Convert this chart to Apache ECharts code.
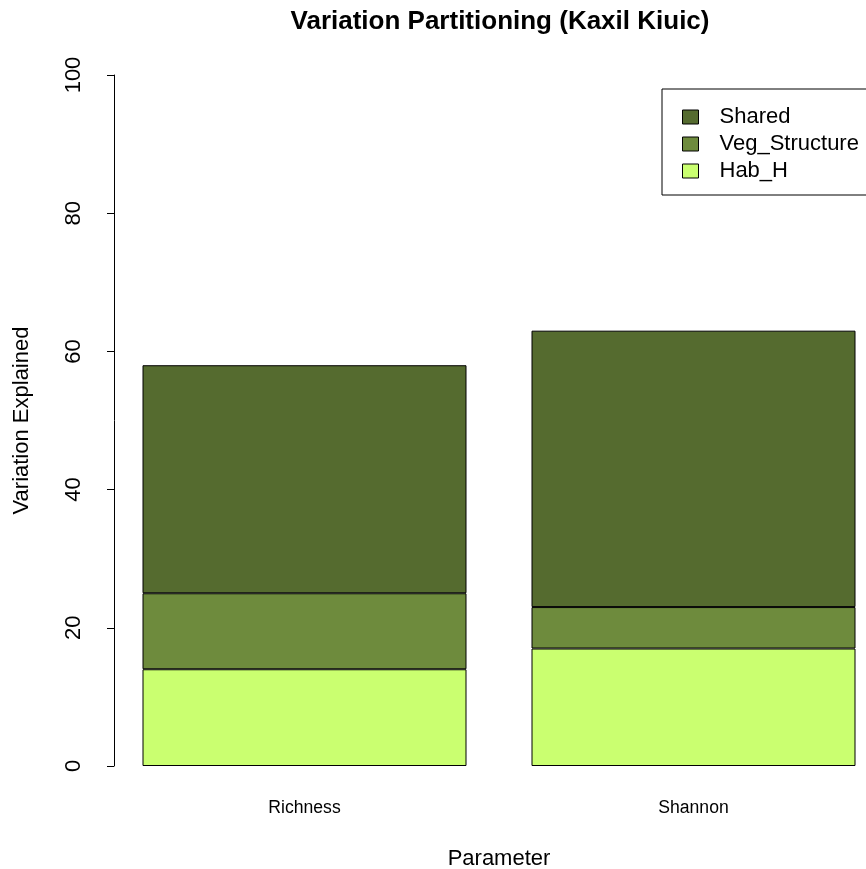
<!DOCTYPE html>
<html>
<head>
<meta charset="utf-8">
<script src="https://cdn.jsdelivr.net/npm/echarts@6/dist/echarts.min.js"></script>
<style>
html,body{margin:0;padding:0;background:#fff;}
#chart{width:866px;height:869px;}
</style>
</head>
<body>
<div id="chart"></div>
<script>
// ---- data ----
var categories = ['Richness', 'Shannon'];
var habH = [14, 17];
var vegStructure = [11, 6];
var shared = [33, 40];
var yTicks = [0, 20, 40, 60, 80, 100];
var legendOrder = ['Shared', 'Veg_Structure', 'Hab_H'];

var FONT = "'Liberation Sans', Arial, Helvetica, sans-serif";
var chart = echarts.init(document.getElementById('chart'), null, {renderer: 'canvas'});

function barSeries(name, vals, color) {
  return {
    name: name, type: 'bar', stack: 'total', data: vals,
    barWidth: 324,
    itemStyle: {color: color, borderColor: '#000', borderWidth: 1},
    emphasis: {disabled: true},
    animation: false
  };
}

chart.setOption({
  animation: false,
  backgroundColor: '#fff',
  title: {
    text: 'Variation Partitioning (Kaxil Kiuic)',
    left: 495, top: 4, textAlign: 'center',
    textStyle: {fontFamily: FONT, fontSize: 26, fontWeight: 'bold', color: '#000'}
  },
  legend: {
    orient: 'vertical', left: 662, top: 89,
    data: legendOrder,
    selectedMode: false,
    itemWidth: 16, itemHeight: 14, itemGap: 5,
    padding: [17, 20, 13, 20],
    borderColor: '#000', borderWidth: 1,
    icon: 'rect',
    itemStyle: {borderColor: '#000', borderWidth: 1},
    textStyle: {fontFamily: FONT, fontSize: 22, color: '#000', lineHeight: 22, padding: [0, 0, 0, 16]}
  },
  grid: {left: 110, top: 75, width: 778, height: 691, outerBoundsMode: 'none', containLabel: false},
  xAxis: {
    type: 'category', data: categories, boundaryGap: true,
    name: 'Parameter', nameLocation: 'middle', nameGap: 82,
    nameTextStyle: {fontFamily: FONT, fontSize: 22, color: '#000'},
    axisLine: {show: false}, axisTick: {show: false}, splitLine: {show: false},
    axisLabel: {fontFamily: FONT, fontSize: 17.6, color: '#000', margin: 33}
  },
  yAxis: {
    type: 'value', min: yTicks[0], max: yTicks[yTicks.length - 1], interval: yTicks[1] - yTicks[0],
    offset: -4,
    name: 'Variation Explained', nameLocation: 'middle', nameGap: 81, nameRotate: 90,
    nameTextStyle: {fontFamily: FONT, fontSize: 22, color: '#000'},
    axisLine: {show: true, lineStyle: {color: '#000', width: 1}},
    axisTick: {show: true, length: 7, lineStyle: {color: '#000', width: 1}},
    splitLine: {show: false},
    axisLabel: {rotate: 90, fontFamily: FONT, fontSize: 22, color: '#000', margin: 29}
  },
  series: [
    barSeries('Hab_H', habH, '#CAFF70'),
    barSeries('Veg_Structure', vegStructure, '#6E8B3D'),
    barSeries('Shared', shared, '#556B2F')
  ]
});
</script>
</body>
</html>
